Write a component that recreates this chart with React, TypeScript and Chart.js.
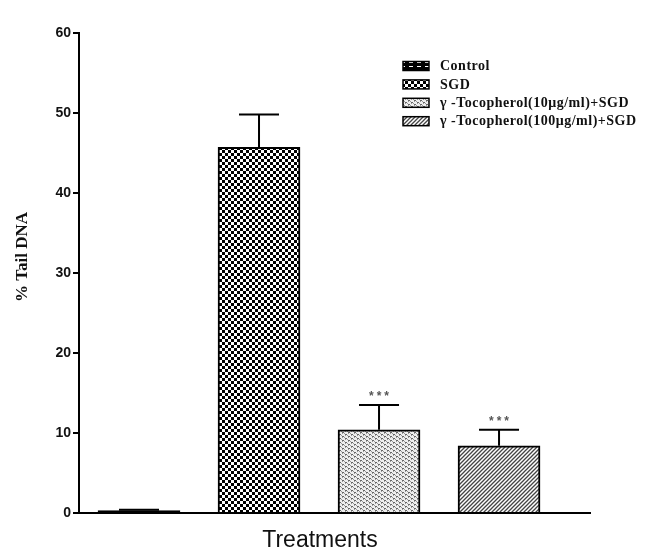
import React, { useEffect, useRef } from "react";
import { Chart, registerables } from "chart.js";
Chart.register(...registerables);

const categories = [
  "Control",
  "SGD",
  "γ -Tocopherol(10μg/ml)+SGD",
  "γ -Tocopherol(100μg/ml)+SGD",
];
const means = [0.3, 45.7, 10.4, 8.4];
const errors = [0.1, 4.1, 3.1, 2.0];
const significance = ["", "", "***", "***"];
const yMin = 0;
const yMax = 60;
const yStep = 10;
const yTitle = "% Tail DNA";
const xTitle = "Treatments";

function makePattern(kind: number): CanvasPattern | string {
  const c = document.createElement("canvas");
  const ctx = c.getContext("2d")!;
  if (kind === 0) {
    c.width = 8; c.height = 4;
    ctx.fillStyle = "#000"; ctx.fillRect(0, 0, 8, 4);
    ctx.fillStyle = "#fff"; ctx.fillRect(1, 2, 4, 1);
  } else if (kind === 1) {
    c.width = 6; c.height = 6;
    ctx.fillStyle = "#fff"; ctx.fillRect(0, 0, 6, 6);
    ctx.fillStyle = "#000"; ctx.fillRect(0, 0, 3, 3); ctx.fillRect(3, 3, 3, 3);
  } else if (kind === 2) {
    c.width = 6; c.height = 4;
    ctx.fillStyle = "#eee"; ctx.fillRect(0, 0, 6, 4);
    ctx.fillStyle = "#666";
    ctx.fillRect(0, 0, 2, 1); ctx.fillRect(3, 2, 2, 1);
    ctx.fillStyle = "#999";
    ctx.fillRect(2, 1, 1, 1); ctx.fillRect(5, 3, 1, 1);
    ctx.fillRect(0, 1, 1, 1); ctx.fillRect(3, 3, 1, 1);
  } else {
    c.width = 4; c.height = 4;
    ctx.fillStyle = "#fff"; ctx.fillRect(0, 0, 4, 4);
    ctx.strokeStyle = "#444"; ctx.lineWidth = 1.3;
    ctx.beginPath();
    ctx.moveTo(-1, 5); ctx.lineTo(5, -1);
    ctx.moveTo(-1, 1); ctx.lineTo(1, -1);
    ctx.moveTo(3, 5); ctx.lineTo(5, 3);
    ctx.stroke();
  }
  return ctx.createPattern(c, "repeat")!;
}

export default function App() {
  const ref = useRef<HTMLCanvasElement>(null);
  useEffect(() => {
    document.body.style.margin = "0";
    const patterns = categories.map((_, i) => makePattern(i));
    const extras = {
      id: "extras",
      afterDatasetsDraw(chart: any) {
        const ctx = chart.ctx as CanvasRenderingContext2D;
        const xs = chart.scales.x, ys = chart.scales.y;
        ctx.save();
        // error bars
        means.forEach((m, i) => {
          const x = xs.getPixelForValue(i);
          const y0 = ys.getPixelForValue(m);
          const y1 = ys.getPixelForValue(m + errors[i]);
          ctx.strokeStyle = "#000"; ctx.lineWidth = 2;
          ctx.beginPath();
          ctx.moveTo(x, y0); ctx.lineTo(x, y1);
          ctx.moveTo(x - 20, y1); ctx.lineTo(x + 20, y1);
          ctx.stroke();
          if (significance[i]) {
            ctx.fillStyle = "#555";
            ctx.font = "bold 12px 'Liberation Sans'";
            ctx.textAlign = "center"; ctx.textBaseline = "middle";
            (ctx as any).letterSpacing = "3px";
            ctx.fillText(significance[i], x + 1.5, y1 - 8);
            (ctx as any).letterSpacing = "0px";
          }
        });
        // legend
        categories.forEach((name, i) => {
          const cy = 66 + i * 18.4;
          ctx.fillStyle = patterns[i] as any;
          ctx.fillRect(403, cy - 4.5, 26, 9);
          ctx.strokeStyle = "#000"; ctx.lineWidth = 1.5;
          ctx.strokeRect(403, cy - 4.5, 26, 9);
          ctx.fillStyle = "#111";
          ctx.font = "bold 14px 'Liberation Serif'";
          (ctx as any).letterSpacing = "0.5px";
          ctx.textAlign = "left"; ctx.textBaseline = "middle";
          ctx.fillText(name, 440, cy + 0.5);
          (ctx as any).letterSpacing = "0px";
        });
        // y title
        ctx.save();
        ctx.translate(23, 257);
        ctx.rotate(-Math.PI / 2);
        ctx.fillStyle = "#111";
        ctx.font = "bold 17px 'Liberation Serif'";
        ctx.textAlign = "center"; ctx.textBaseline = "middle";
        ctx.fillText(yTitle, 0, 0);
        ctx.restore();
        // x title
        ctx.fillStyle = "#111";
        ctx.font = "23px 'Liberation Sans'";
        ctx.textAlign = "center"; ctx.textBaseline = "middle";
        ctx.fillText(xTitle, 320, 541);
        ctx.restore();
      },
    };
    const chart = new Chart(ref.current!, {
      type: "bar",
      data: {
        datasets: categories.map((name, i) => ({
          label: name,
          data: [{ x: i, y: means[i] }],
          backgroundColor: patterns[i] as any,
          borderColor: "#000",
          borderWidth: 2,
          barThickness: 82,
          grouped: false,
        })),
      },
      options: {
        responsive: false,
        animation: false,
        layout: { padding: { top: 33, right: 79, left: 0, bottom: 0 } },
        plugins: { legend: { display: false }, tooltip: { enabled: false } },
        scales: {
          x: {
            type: "linear",
            offset: false,
            min: -0.5,
            max: 3.758,
            ticks: { display: false },
            grid: { display: false, offset: false },
            border: { display: true, color: "#000", width: 2 },
            afterFit: (s: any) => { s.height = 39; },
          },
          y: {
            min: yMin,
            max: yMax,
            ticks: {
              stepSize: yStep,
              color: "#111",
              padding: 2,
              font: { family: "'Liberation Sans'", size: 14, weight: "bold" },
            },
            grid: { drawOnChartArea: false, drawTicks: true, tickLength: 6, color: "#000", lineWidth: 2 },
            border: { display: true, color: "#000", width: 2 },
            afterFit: (s: any) => { s.width = 79; },
          },
        },
      },
      plugins: [extras],
    });
    return () => chart.destroy();
  }, []);
  return (
    <div style={{ position: "absolute", left: 0, top: 0, background: "#fff" }}>
      <canvas ref={ref} width={669} height={552} />
    </div>
  );
}
